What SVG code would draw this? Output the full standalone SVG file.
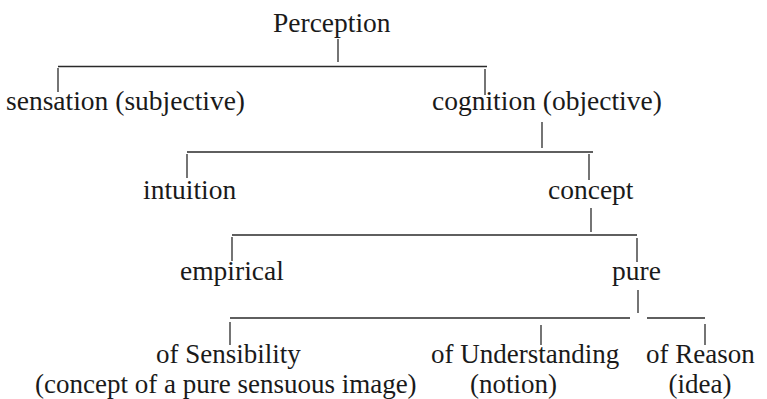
<svg xmlns="http://www.w3.org/2000/svg" width="767" height="399" viewBox="0 0 767 399">
<style>
text{font-family:"Liberation Serif","Times New Roman",serif;font-size:27.5px;fill:#1a1a1a;}
.b{font-size:27px;}
.c line{stroke:#2a2a2a;stroke-width:1.3;}
</style>
<rect width="767" height="399" fill="#ffffff"/>
<g class="c" id="connectors">
<line x1="338" y1="39" x2="338" y2="62"/>
<line x1="58" y1="66.5" x2="487" y2="66.5"/>
<line x1="58" y1="68" x2="58" y2="92"/>
<line x1="485" y1="69" x2="485" y2="95"/>
<line x1="542" y1="122" x2="542" y2="148"/>
<line x1="187" y1="152" x2="593" y2="152"/>
<line x1="187" y1="154" x2="187" y2="178"/>
<line x1="589" y1="154" x2="589" y2="180"/>
<line x1="591" y1="208" x2="591" y2="232"/>
<line x1="232" y1="235" x2="637" y2="235"/>
<line x1="232" y1="237" x2="232" y2="261"/>
<line x1="637" y1="238" x2="637" y2="262"/>
<line x1="638" y1="290" x2="638" y2="313"/>
<line x1="230" y1="318" x2="630" y2="318"/>
<line x1="647" y1="318" x2="705" y2="318"/>
<line x1="230" y1="322" x2="230" y2="345"/>
<line x1="541" y1="325" x2="541" y2="345"/>
<line x1="705" y1="324" x2="705" y2="345"/>
</g>
<g id="perception"><text x="273" y="32">Perception</text></g>
<g id="sensation"><text x="6" y="110">sensation (subjective)</text></g>
<g id="cognition"><text x="432" y="110">cognition (objective)</text></g>
<g id="intuition"><text x="143" y="199">intuition</text></g>
<g id="concept"><text x="548" y="199">concept</text></g>
<g id="empirical"><text x="180" y="280">empirical</text></g>
<g id="pure"><text x="612" y="280">pure</text></g>
<g id="sensibility"><text class="b" x="156" y="363">of Sensibility</text><text class="b" x="35" y="393">(concept of a pure sensuous image)</text></g>
<g id="understanding"><text class="b" x="431" y="363">of Understanding</text><text class="b" x="470" y="393">(notion)</text></g>
<g id="reason"><text class="b" x="646" y="363">of Reason</text><text class="b" x="700" y="393" text-anchor="middle">(idea)</text></g>
</svg>
